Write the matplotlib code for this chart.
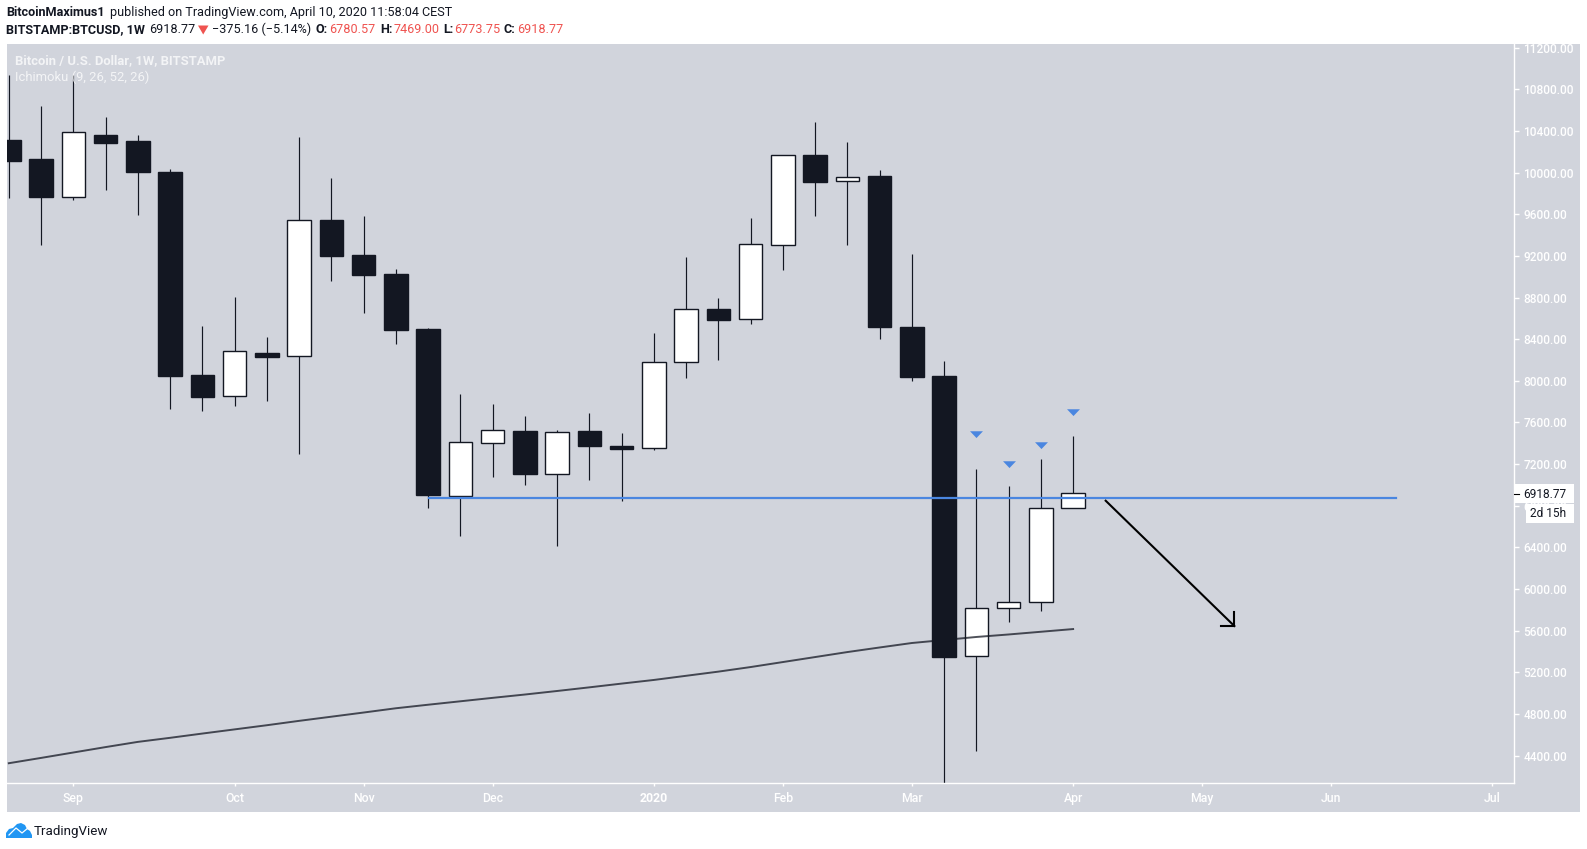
#!/usr/bin/env python3
import numpy as np
import matplotlib
matplotlib.use("Agg")
import matplotlib.pyplot as plt
from matplotlib.patches import Rectangle, Polygon

W, H = 1587, 849
FONT = "Roboto"
DARK = "#131722"
PANE = "#d1d4dc"
BLUE = "#4a86e0"
RED = "#ef5350"

# weekly BTCUSD candles
opens = [10316, 10131, 9762, 10364, 10306, 10005, 8052, 7858, 8266, 8237, 9548, 9208,
         9024, 8499, 6896, 7405, 7517, 7107, 7517, 7373, 7351, 8179, 8694, 8596,
         9306, 10170, 9918, 9966, 8519, 8043, 5352, 5818, 5877, 6780.57]
highs = [10938, 10636, 10938, 10530, 10364, 10034, 8528, 8810, 8422, 10345, 9947, 9587,
         9072, 8509, 7872, 7776, 7661, 7527, 7690, 7498, 8460, 9189, 8791, 9568,
         10170, 10491, 10296, 10024, 9218, 8188, 7149, 6994, 7246, 7469.00]
lows = [9752, 9306, 9733, 9830, 9597, 7732, 7713, 7761, 7810, 7295, 8956, 8655,
        8354, 6780, 6511, 7078, 6998, 6415, 7049, 6847, 7334, 8023, 8198, 8548,
        9063, 9587, 9306, 8402, 7994, 3850, 4439, 5682, 5789, 6773.75]
closes = [10112, 9762, 10395, 10287, 10005, 8043, 7848, 8286, 8227, 9548, 9199, 9014,
          8490, 6906, 7408, 7523, 7107, 7507, 7373, 7344, 8179, 8694, 8587, 9315,
          10170, 9908, 9956, 8519, 8033, 5342, 5818, 5877, 6780, 6918.77]

# long moving average under the candles
ma_line = [4326, 4377, 4429, 4481, 4531, 4570, 4611, 4651, 4691, 4733, 4773, 4813,
           4854, 4888, 4921, 4954, 4986, 5020, 5055, 5091, 5126, 5166, 5206, 5250,
           5298, 5346, 5394, 5438, 5481, 5510, 5539, 5563, 5589, 5615]

support_level = 6876
support_span = [13.03, 43.0]
marker_idx = [30, 31, 32, 33]
marker_prices = [7488, 7197, 7382, 7699]

arrow_x = [34.01, 38.0]
arrow_y = [6848, 5644]
head_x = [37.58, 38.0, 38.0]
head_y = [5644, 5644, 5779]

month_pos = [2, 7, 11, 15, 20, 24, 28, 33, 37, 41, 46]
month_labels = ["Sep", "Oct", "Nov", "Dec", "2020", "Feb", "Mar", "Apr", "May", "Jun", "Jul"]
price_ticks = [4400, 4800, 5200, 5600, 6000, 6400, 6800, 7200, 7600, 8000, 8400,
               8800, 9200, 9600, 10000, 10400, 10800, 11200]
last_price = 6918.77

fig = plt.figure(figsize=(W / 100, H / 100), dpi=100, facecolor="white")


def overlay(z):
    a = fig.add_axes([0, 0, 1, 1], zorder=z, facecolor="none")
    a.set_xlim(0, W)
    a.set_ylim(H, 0)
    a.axis("off")
    return a


back = overlay(0)
front = overlay(2)
back.add_patch(Rectangle((7, 44), 1573, 768, fc=PANE, ec="none"))

# main price pane, 7..1514 px across and 44..783 px down
ax = fig.add_axes([7 / W, 1 - 783 / H, 1507 / W, 739 / H], zorder=1, facecolor="none")
ax.set_xlim(-0.056, 46.67)
ax.set_ylim(4136, 11236)

x = np.arange(len(opens))
o = np.array(opens)
c = np.array(closes)
up = c >= o
ax.vlines(x, lows, highs, color=DARK, lw=0.85, zorder=2)
ax.bar(x, np.abs(c - o), bottom=np.minimum(o, c), width=0.73,
       color=np.where(up, "white", DARK), edgecolor=DARK, linewidth=1.0, zorder=3)

ax.plot(x, ma_line, color=DARK, alpha=0.75, lw=1.4, zorder=4)
ax.plot(support_span, [support_level, support_level], color=BLUE, lw=1.6, zorder=5)

tri = [(-1, 0.5), (1, 0.5), (0, -0.55)]
ax.plot(marker_idx, marker_prices, ls="none", marker=tri, ms=9.3, color=BLUE, mew=0, zorder=6)

ax.plot(arrow_x, arrow_y, color="black", lw=1.5, zorder=6)
ax.plot(head_x, head_y, color="black", lw=1.5, zorder=6)

for s in ["top", "left"]:
    ax.spines[s].set_visible(False)
for s in ["right", "bottom"]:
    ax.spines[s].set_color("white")
    ax.spines[s].set_linewidth(1.0)
ax.yaxis.tick_right()
ax.set_yticks(price_ticks)
ax.set_yticklabels([f"{p:.2f}" for p in price_ticks])
ax.set_xticks(month_pos)
ax.set_xticklabels(month_labels)
ax.tick_params(axis="y", colors="white", length=3.6, width=1, pad=3, labelsize=8.6)
ax.tick_params(axis="x", colors="white", length=2.2, width=1, pad=4, labelsize=8.8)
for lab in ax.get_xticklabels() + ax.get_yticklabels():
    lab.set_fontfamily(FONT)
    lab.set_fontweight("medium")
ax.get_xticklabels()[4].set_fontweight("bold")

# legend watermark
wm = dict(family=FONT, color="white", alpha=0.75, va="center", fontsize=9.4)
front.text(15, 60.7, "Bitcoin / U.S. Dollar, 1W, BITSTAMP", fontweight="bold", **wm)
front.text(15, 77.7, "Ichimoku (9, 26, 52, 26)", **wm)

# price and countdown labels on the scale
front.add_patch(Rectangle((1514.5, 484), 59.5, 18.7, fc="white", ec="none"))
front.add_patch(Rectangle((1526, 504), 48, 18.7, fc="white", ec="none"))
front.plot([1514, 1519], [493.5, 493.5], color="black", lw=0.8)
front.text(1523, 494, f"{last_price:.2f}", family=FONT, fontsize=8.6, color=DARK, va="center")
front.text(1530, 513.7, "2d 15h", family=FONT, fontsize=8.6, color=DARK, va="center")


# header text, placed piece by piece
def head(px, py, s, color=DARK, bold=False):
    front.text(px, py, s, family=FONT, fontsize=9.1, color=color, va="center",
               fontweight="bold" if bold else "normal")


head(6.5, 12.7, "BitcoinMaximus1", bold=True)
head(110, 12.7, "published on TradingView.com, April 10, 2020 11:58:04 CEST")
head(6.5, 29.5, "BITSTAMP:BTCUSD, 1W", bold=True)
head(149, 29.5, "6918.77")
front.add_patch(Polygon([(198, 25.5), (208.5, 25.5), (203.2, 34.5)], fc=RED, ec="none"))
head(212, 29.5, "\u2212375.16 (\u22125.14%)")
head(315, 29.5, "O:", bold=True)
head(329, 29.5, "6780.57", RED)
head(380, 29.5, "H:", bold=True)
head(394, 29.5, "7469.00", RED)
head(443, 29.5, "L:", bold=True)
head(454, 29.5, "6773.75", RED)
head(504, 29.5, "C:", bold=True)
head(517, 29.5, "6918.77", RED)

# TradingView logo and name
cloud = [(6, 838), (6, 833), (9, 829), (13, 828), (17, 824), (21, 823), (25, 825), (27, 829),
         (30, 831), (32, 835), (32, 838)]
front.add_patch(Polygon(cloud, fc="#2196f3", ec="none"))
front.plot([9, 16, 22, 28], [835, 828, 833, 828], color="white", lw=0.9)
front.text(34, 831, "TradingView", family=FONT, fontsize=9.6, color=DARK, va="center")

fig.savefig("out.png", dpi=100, facecolor="white")
